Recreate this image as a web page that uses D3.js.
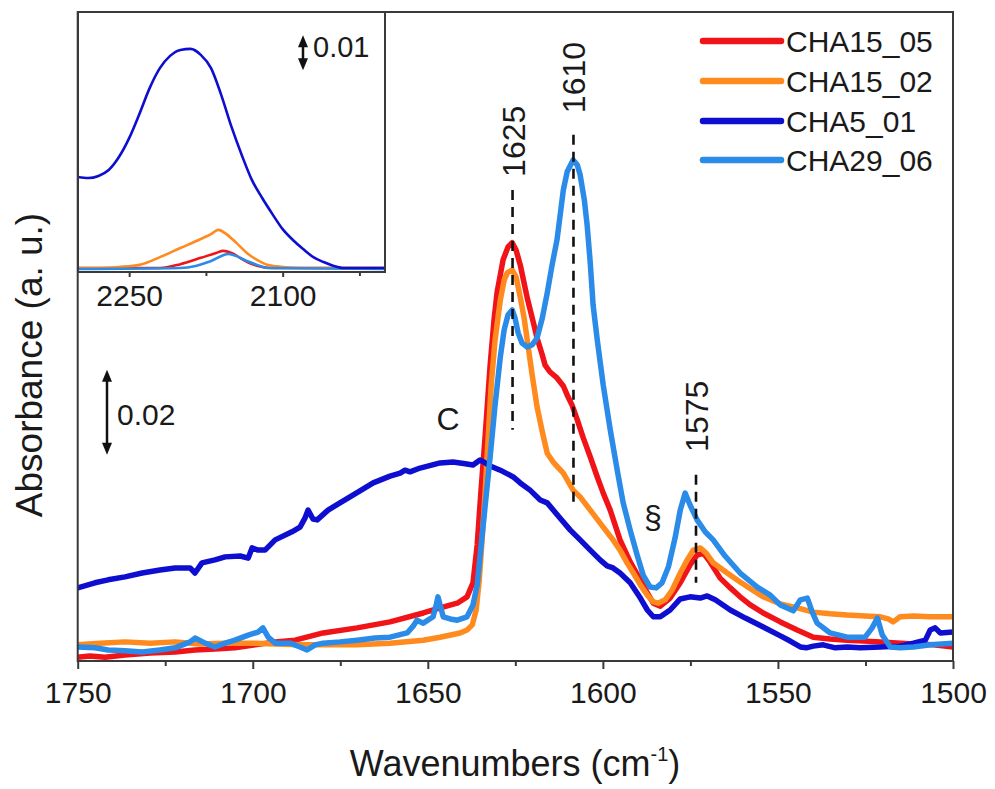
<!DOCTYPE html>
<html><head><meta charset="utf-8">
<script src="https://cdn.jsdelivr.net/npm/d3@7"></script>
<style>
body{margin:0;background:#fff}
text{font-family:"Liberation Sans",Arial,sans-serif;fill:#1a1a1a}
</style>
</head><body>
<svg id="chart" width="995" height="789"></svg>
<script>
// ---------------- DATA ----------------
const seriesNames = ["CHA15_05", "CHA15_02", "CHA5_01", "CHA29_06"];
const xTickValues = [1750, 1700, 1650, 1600, 1550, 1500];
const xMinorTickValues = [1725, 1675, 1625, 1575, 1525];
const insetTickValues = [2250, 2100];
const insetMinorTickValues = [2175, 2025];
const peakLabels = ["1625", "1610", "1575"];
const peakPositions = [1625.8, 1608.4, 1573.4];
const scaleBarMain = 0.02;
const scaleBarInset = 0.01;

// main spectra: [wavenumber (cm-1), absorbance]
const cha15_05 = [[1750,0.0009],[1746.5,0.0012],[1742.2,0.0009],[1736.5,0.0014],[1729.3,0.0019],[1722.2,0.0021],[1716.5,0.0026],[1710.8,0.0028],[1705.1,0.0031],[1699.3,0.0038],[1693.6,0.0045],[1687.9,0.0049],[1679.9,0.0066],[1670.2,0.0078],[1660.8,0.0092],[1651.3,0.0113],[1646.5,0.0125],[1641.6,0.0136],[1638.8,0.0151],[1637.1,0.0184],[1635.9,0.0273],[1634.8,0.0402],[1633.6,0.0532],[1632.2,0.0696],[1631.1,0.0802],[1630.2,0.0868],[1628.5,0.0944],[1627.1,0.0974],[1625.9,0.0984],[1624.8,0.0967],[1623.6,0.0932],[1621.6,0.0854],[1619.9,0.0798],[1618.8,0.0760],[1617.3,0.0720],[1616.5,0.0696],[1615.1,0.0680],[1613.1,0.0666],[1611.3,0.0647],[1610.2,0.0626],[1608.8,0.0602],[1607.3,0.0567],[1605.6,0.0525],[1603.6,0.0480],[1601.6,0.0433],[1599.9,0.0395],[1597.9,0.0355],[1595.1,0.0285],[1592.2,0.0233],[1589.3,0.0191],[1587.3,0.0160],[1585.6,0.0136],[1583.6,0.0129],[1580.8,0.0148],[1577.9,0.0184],[1575.1,0.0226],[1573.1,0.0249],[1571.3,0.0254],[1569.4,0.0233],[1566.5,0.0195],[1563.6,0.0172],[1560.8,0.0151],[1557.9,0.0132],[1554.2,0.0113],[1549.3,0.0092],[1544.5,0.0073],[1539.9,0.0056],[1535.1,0.0052],[1530.2,0.0049],[1520.8,0.0045],[1511.3,0.0040],[1505.6,0.0038],[1500,0.0033]];

const cha15_02 = [[1750,0.0038],[1743.6,0.0042],[1736.5,0.0045],[1729.3,0.0042],[1722.2,0.0045],[1715.1,0.0040],[1707.9,0.0042],[1699.3,0.0042],[1693.6,0.0040],[1686.5,0.0038],[1679.9,0.0038],[1670.2,0.0038],[1660.8,0.0042],[1651.3,0.0049],[1646.5,0.0056],[1640.8,0.0066],[1638.8,0.0073],[1637.3,0.0085],[1636.2,0.0120],[1635.3,0.0191],[1634.5,0.0285],[1633.6,0.0402],[1632.8,0.0520],[1631.9,0.0649],[1630.8,0.0755],[1629.3,0.0849],[1628.2,0.0896],[1627.3,0.0913],[1625.9,0.0920],[1624.8,0.0904],[1623.6,0.0856],[1622.5,0.0807],[1621.6,0.0755],[1620.2,0.0673],[1618.8,0.0598],[1617.3,0.0539],[1615.9,0.0489],[1614.2,0.0468],[1611.3,0.0442],[1608.5,0.0402],[1606.5,0.0386],[1603.6,0.0355],[1599.9,0.0315],[1597.1,0.0285],[1595.1,0.0261],[1593.1,0.0231],[1591.3,0.0207],[1589.3,0.0179],[1587.3,0.0155],[1585.6,0.0139],[1584.2,0.0136],[1582.2,0.0144],[1580.2,0.0167],[1577.9,0.0207],[1575.9,0.0238],[1574.2,0.0261],[1572.2,0.0266],[1570.5,0.0254],[1568.5,0.0231],[1564.5,0.0207],[1560.8,0.0186],[1557.3,0.0167],[1554.2,0.0151],[1549.3,0.0134],[1544.5,0.0125],[1539.9,0.0115],[1535.1,0.0111],[1530.2,0.0108],[1525.1,0.0106],[1520.8,0.0104],[1518.5,0.0099],[1517.1,0.0092],[1515.1,0.0104],[1511.3,0.0106],[1506.5,0.0104],[1500,0.0104]];

const cha5_01 = [[1750,0.0172],[1745.1,0.0184],[1741.3,0.0191],[1736.5,0.0198],[1731.6,0.0207],[1726.5,0.0214],[1722.2,0.0219],[1717.9,0.0219],[1716.5,0.0207],[1714.5,0.0231],[1710.8,0.0238],[1707.9,0.0245],[1703.6,0.0247],[1701.3,0.0242],[1700.2,0.0266],[1698.5,0.0261],[1696.5,0.0261],[1693.6,0.0285],[1688.8,0.0304],[1686.5,0.0315],[1685.1,0.0336],[1684.2,0.0355],[1682.8,0.0334],[1681.6,0.0332],[1678.5,0.0355],[1675.1,0.0372],[1670.8,0.0393],[1665.6,0.0419],[1660.8,0.0435],[1657.9,0.0442],[1656.5,0.0449],[1655.1,0.0445],[1652.2,0.0454],[1646.5,0.0466],[1642.8,0.0468],[1639.3,0.0464],[1637.1,0.0461],[1635.1,0.0473],[1632.2,0.0459],[1629.3,0.0449],[1625.6,0.0433],[1623.6,0.0419],[1620.8,0.0402],[1617.9,0.0379],[1615.9,0.0372],[1612.2,0.0336],[1609.3,0.0308],[1606.5,0.0285],[1603.6,0.0261],[1600.8,0.0238],[1598.8,0.0224],[1597.1,0.0219],[1595.1,0.0207],[1592.2,0.0184],[1589.3,0.0148],[1587.3,0.0120],[1585.6,0.0104],[1583.6,0.0104],[1580.8,0.0120],[1577.9,0.0146],[1575.1,0.0151],[1572.2,0.0148],[1570.2,0.0153],[1567.9,0.0144],[1563.6,0.0120],[1559.3,0.0101],[1554.2,0.0080],[1549.3,0.0059],[1546.5,0.0047],[1543.6,0.0033],[1541.9,0.0031],[1539.9,0.0035],[1537.1,0.0038],[1533.6,0.0031],[1530.2,0.0033],[1526.5,0.0031],[1520.8,0.0033],[1515.1,0.0035],[1511.3,0.0042],[1507.9,0.0049],[1506.5,0.0073],[1505.1,0.0078],[1503.6,0.0066],[1500,0.0068]];

const cha29_06 = [[1750,0.0033],[1745.1,0.0031],[1741.3,0.0026],[1736.5,0.0024],[1731.6,0.0021],[1726.5,0.0026],[1722.2,0.0031],[1717.9,0.0045],[1716.5,0.0054],[1713.6,0.0042],[1710.8,0.0033],[1707.9,0.0042],[1705.1,0.0049],[1701.3,0.0061],[1698.5,0.0068],[1697.1,0.0078],[1695.6,0.0056],[1693.6,0.0042],[1689.3,0.0042],[1686.5,0.0033],[1684.5,0.0026],[1682.2,0.0038],[1679.9,0.0042],[1675.1,0.0045],[1670.2,0.0049],[1665.1,0.0054],[1660.8,0.0056],[1655.9,0.0066],[1654.2,0.0082],[1653.1,0.0096],[1651.3,0.0089],[1648.5,0.0104],[1647.6,0.0132],[1647.1,0.0151],[1646.5,0.0132],[1645.6,0.0104],[1643.6,0.0099],[1641.6,0.0096],[1638.8,0.0104],[1637.1,0.0132],[1635.9,0.0179],[1635.1,0.0245],[1633.6,0.0367],[1632.2,0.0480],[1630.8,0.0602],[1629.3,0.0715],[1628.2,0.0779],[1627.1,0.0814],[1625.9,0.0826],[1625.1,0.0807],[1624.2,0.0772],[1623.1,0.0748],[1621.6,0.0739],[1620.2,0.0744],[1618.8,0.0760],[1617.3,0.0807],[1615.9,0.0866],[1614.5,0.0932],[1613.1,0.0991],[1612.2,0.1049],[1611.3,0.1108],[1610.2,0.1151],[1608.5,0.1179],[1607.3,0.1167],[1606.5,0.1144],[1605.3,0.1085],[1604.5,0.1026],[1603.6,0.0936],[1602.8,0.0838],[1601.6,0.0755],[1599.9,0.0649],[1597.9,0.0544],[1595.9,0.0449],[1594.2,0.0372],[1592.2,0.0308],[1590.2,0.0249],[1588.5,0.0202],[1586.5,0.0174],[1584.8,0.0172],[1583.1,0.0184],[1581.3,0.0221],[1579.4,0.0289],[1577.9,0.0355],[1576.5,0.0395],[1575.1,0.0367],[1573.1,0.0332],[1570.8,0.0304],[1568.5,0.0285],[1565.1,0.0247],[1560.8,0.0207],[1555.9,0.0174],[1552.2,0.0155],[1549.3,0.0132],[1545.6,0.0118],[1543.6,0.0144],[1541.6,0.0148],[1540.2,0.0115],[1538.8,0.0089],[1535.1,0.0066],[1530.2,0.0056],[1525.1,0.0056],[1523.1,0.0078],[1521.6,0.0101],[1520.2,0.0061],[1517.9,0.0033],[1515.1,0.0031],[1511.3,0.0033],[1506.5,0.0038],[1500,0.0042]];

// inset spectra (2300-2000 cm-1)
const inset_cha15_05 = [[2300,0],[2220,0],[2200,0.0011],[2180,0.0029],[2165,0.0043],[2158,0.0049],[2150,0.0043],[2140,0.0026],[2130,0.0011],[2120,0.0003],[2110,0],[2000,0]];
const inset_cha15_02 = [[2300,0],[2280,0],[2260,0.0003],[2240,0.0009],[2220,0.0031],[2200,0.0057],[2180,0.0083],[2170,0.0097],[2163,0.0109],[2155,0.0097],[2145,0.0071],[2135,0.0043],[2125,0.0023],[2115,0.0009],[2100,0.0003],[2080,0],[2000,0]];
const inset_cha5_01 = [[2300,0.0260],[2290,0.0257],[2280,0.0263],[2270,0.0280],[2260,0.0317],[2250,0.0371],[2240,0.0440],[2230,0.0514],[2220,0.0571],[2210,0.0606],[2200,0.0623],[2190,0.0626],[2180,0.0609],[2170,0.0571],[2160,0.0494],[2150,0.0403],[2140,0.0323],[2130,0.0251],[2120,0.0200],[2110,0.0154],[2100,0.0111],[2090,0.0080],[2080,0.0054],[2070,0.0031],[2060,0.0017],[2050,0.0006],[2040,0],[2020,0],[2000,0]];
const inset_cha29_06 = [[2300,-0.0003],[2200,0],[2185,0.0006],[2170,0.0020],[2153,0.0040],[2145,0.0034],[2135,0.0020],[2125,0.0009],[2115,0],[2000,-0.0003]];

// ---------------- STYLE / LAYOUT ----------------
const colors = ["#f01418", "#ff8a1e", "#0e0ed0", "#2b8be8"];
const mainSeries = [cha15_05, cha15_02, cha5_01, cha29_06];
const insetSeries = [inset_cha15_05, inset_cha15_02, inset_cha5_01, inset_cha29_06];

const svg = d3.select("#chart");
const M = {left: 77.7, right: 953, top: 12, bottom: 661};
const I = {left: 78, right: 385, top: 12, bottom: 272};

const x = d3.scaleLinear().domain([1750, 1500]).range([M.left, M.right]);
const y = d3.scaleLinear().domain([0, 0.1527]).range([M.bottom, M.top]);
const xi = d3.scaleLinear().domain([2300, 2000]).range([I.left, I.right]);
const yi = d3.scaleLinear().domain([-0.00114, 0.07314]).range([I.bottom, I.top]);

svg.append("rect").attr("width", 995).attr("height", 789).attr("fill", "#fff");

svg.append("defs").append("clipPath").attr("id", "clipMain")
  .append("rect").attr("x", M.left).attr("y", M.top).attr("width", M.right - M.left).attr("height", M.bottom - M.top);
svg.select("defs").append("clipPath").attr("id", "clipInset")
  .append("rect").attr("x", I.left).attr("y", I.top).attr("width", I.right - I.left).attr("height", I.bottom - I.top);

// main lines
const line = d3.line().x(d => x(d[0])).y(d => y(d[1])).curve(d3.curveLinear);
const gMain = svg.append("g").attr("clip-path", "url(#clipMain)");
mainSeries.forEach((s, i) => {
  gMain.append("path").datum(s).attr("d", line).attr("fill", "none")
    .attr("stroke", colors[i]).attr("stroke-width", 5.5)
    .attr("stroke-linejoin", "round").attr("stroke-linecap", "round");
});

// dashed peak markers
const peakSpans = [[0.0544, 0.1108], [0.0372, 0.1238], [0.0184, 0.0438]];
const peakTextBottoms = [0.1139, 0.1289, 0.0492];
peakPositions.forEach((p, i) => {
  svg.append("line").attr("x1", x(p)).attr("x2", x(p))
    .attr("y1", y(peakSpans[i][1])).attr("y2", y(peakSpans[i][0]))
    .attr("stroke", "#111").attr("stroke-width", 2.6).attr("stroke-dasharray", "10,7");
  svg.append("text").attr("transform", `translate(${x(p) + 12},${y(peakTextBottoms[i])}) rotate(-90)`)
    .attr("font-size", 32).text(peakLabels[i]);
});

// inset
svg.append("rect").attr("x", I.left).attr("y", I.top).attr("width", I.right - I.left).attr("height", I.bottom - I.top)
  .attr("fill", "#fff").attr("stroke", "none");
const iline = d3.line().x(d => xi(d[0])).y(d => yi(d[1])).curve(d3.curveMonotoneX);
const gIn = svg.append("g").attr("clip-path", "url(#clipInset)");
[0, 1, 3, 2].forEach(i => {
  gIn.append("path").datum(insetSeries[i]).attr("d", iline).attr("fill", "none")
    .attr("stroke", colors[i]).attr("stroke-width", 2.6);
});
svg.append("rect").attr("x", I.left).attr("y", I.top).attr("width", I.right - I.left).attr("height", I.bottom - I.top)
  .attr("fill", "none").attr("stroke", "#3a3a3a").attr("stroke-width", 2);

// inset axis
const gIx = svg.append("g").attr("transform", `translate(0,${I.bottom})`)
  .call(d3.axisBottom(xi).tickValues(insetTickValues).tickFormat(d3.format("d")).tickSize(5).tickSizeOuter(0).tickPadding(8));
gIx.select(".domain").remove();
gIx.selectAll("text").attr("font-size", 30).attr("font-family", "Liberation Sans, Arial, sans-serif").attr("fill", "#1a1a1a");
gIx.selectAll("line").attr("stroke", "#3a3a3a").attr("stroke-width", 2);
svg.append("g").attr("transform", `translate(0,${I.bottom})`)
  .call(d3.axisBottom(xi).tickValues(insetMinorTickValues).tickFormat("").tickSize(4).tickSizeOuter(0))
  .call(g => g.select(".domain").remove())
  .selectAll("line").attr("stroke", "#3a3a3a").attr("stroke-width", 2);

// main frame
svg.append("rect").attr("x", M.left).attr("y", M.top).attr("width", M.right - M.left).attr("height", M.bottom - M.top)
  .attr("fill", "none").attr("stroke", "#3a3a3a").attr("stroke-width", 2);

// main x axis
const gx = svg.append("g").attr("transform", `translate(0,${M.bottom})`)
  .call(d3.axisBottom(x).tickValues(xTickValues).tickFormat(d3.format("d")).tickSize(8).tickSizeOuter(0).tickPadding(13));
gx.select(".domain").remove();
gx.selectAll("text").attr("font-size", 30).attr("font-family", "Liberation Sans, Arial, sans-serif").attr("fill", "#1a1a1a");
gx.selectAll("line").attr("stroke", "#3a3a3a").attr("stroke-width", 2);
svg.append("g").attr("transform", `translate(0,${M.bottom})`)
  .call(d3.axisBottom(x).tickValues(xMinorTickValues).tickFormat("").tickSize(5).tickSizeOuter(0))
  .call(g => g.select(".domain").remove())
  .selectAll("line").attr("stroke", "#3a3a3a").attr("stroke-width", 2);

// axis titles
const xt = svg.append("text").attr("x", 515).attr("y", 776).attr("text-anchor", "middle").attr("font-size", 36);
xt.append("tspan").text("Wavenumbers (cm");
xt.append("tspan").attr("font-size", 20).attr("dy", -15).text("-1");
xt.append("tspan").attr("dy", 15).text(")");
svg.append("text").attr("transform", "translate(42,365) rotate(-90)").attr("text-anchor", "middle")
  .attr("font-size", 37).text("Absorbance (a. u.)");

// double arrows (scale bars)
function dblArrow(cx, y1, y2) {
  const h = 12, w = 5;
  svg.append("line").attr("x1", cx).attr("x2", cx).attr("y1", y1 + h - 2).attr("y2", y2 - h + 2)
    .attr("stroke", "#111").attr("stroke-width", 2.5);
  svg.append("path").attr("d", `M${cx},${y1} L${cx - w},${y1 + h} L${cx + w},${y1 + h} Z`).attr("fill", "#111");
  svg.append("path").attr("d", `M${cx},${y2} L${cx - w},${y2 - h} L${cx + w},${y2 - h} Z`).attr("fill", "#111");
}
const barMainBase = 0.0485;
dblArrow(107, y(barMainBase + scaleBarMain), y(barMainBase));
svg.append("text").attr("x", 117).attr("y", 425).attr("font-size", 30).text("0.02");
const barInsetBase = 0.0565;
dblArrow(303, yi(barInsetBase + scaleBarInset), yi(barInsetBase));
svg.append("text").attr("x", 313).attr("y", 57).attr("font-size", 29).text("0.01");

// other labels
svg.append("text").attr("x", 448).attr("y", 430).attr("text-anchor", "middle").attr("font-size", 32).text("C");
svg.append("text").attr("x", 653).attr("y", 528).attr("text-anchor", "middle").attr("font-size", 32).text("§");

// legend
const legY = [41, 81, 121, 160];
seriesNames.forEach((n, i) => {
  svg.append("line").attr("x1", 703).attr("x2", 781).attr("y1", legY[i]).attr("y2", legY[i])
    .attr("stroke", colors[i]).attr("stroke-width", 6.5).attr("stroke-linecap", "round");
  svg.append("text").attr("x", 786).attr("y", legY[i] + 11).attr("font-size", 30).text(n);
});
</script>
</body></html>
